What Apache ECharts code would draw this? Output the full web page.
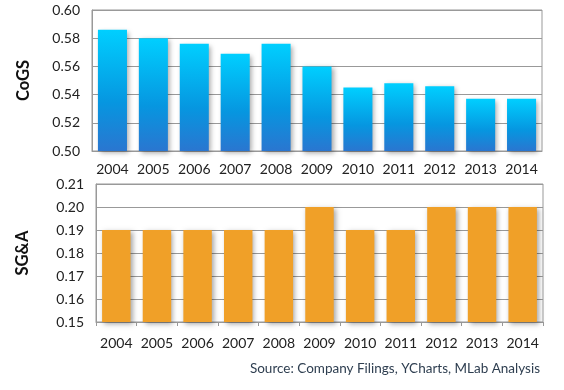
<!DOCTYPE html>
<html><head><meta charset="utf-8">
<script src="https://cdn.jsdelivr.net/npm/echarts@6/dist/echarts.min.js"></script>
<style>html,body{margin:0;padding:0;background:#fff}#c{width:564px;height:390px}</style>
</head><body><div id="c"></div>
<script>
const years = ['2004','2005','2006','2007','2008','2009','2010','2011','2012','2013','2014'];
const cogs = [0.586, 0.580, 0.576, 0.569, 0.576, 0.560, 0.545, 0.548, 0.546, 0.537, 0.537];
const sga = [0.19, 0.19, 0.19, 0.19, 0.19, 0.20, 0.19, 0.19, 0.20, 0.20, 0.20];
const cogsTicks = [0.50, 0.60, 0.02];
const sgaTicks = [0.15, 0.21, 0.01];

const font = 'Lato';
const chart = echarts.init(document.getElementById('c'));
const yAxisBase = (t, name, gap) => ({
  type: 'value', min: t[0], max: t[1], interval: t[2],
  name: name, nameLocation: 'middle', nameGap: gap, nameRotate: 90,
  nameTextStyle: {fontFamily: font, fontWeight: 'bold', fontSize: 16.5, color: '#111'},
  axisLine: {show: true, lineStyle: {color: '#999'}},
  axisTick: {show: false},
  axisLabel: {fontFamily: font, fontSize: 14, color: '#222', margin: 12, formatter: v => v.toFixed(2)},
  splitLine: {show: true, lineStyle: {color: '#999', width: 1}}
});
const xAxisBase = (ticks) => ({
  type: 'category', data: years,
  axisLine: {show: true, lineStyle: {color: '#999'}},
  axisTick: {show: ticks, length: 4, interval: 0, lineStyle: {color: '#999'}},
  axisLabel: {fontFamily: font, fontSize: 14, color: '#222', interval: 0, margin: ticks ? 14 : 11}
});
chart.setOption({
  animation: false,
  grid: [
    {left: 92, right: 22, top: 10, height: 141, show: true, borderColor: '#999', borderWidth: 1},
    {left: 96, right: 21, top: 184, height: 138, show: true, borderColor: '#999', borderWidth: 1}
  ],
  xAxis: [Object.assign(xAxisBase(false), {gridIndex: 0}), Object.assign(xAxisBase(true), {gridIndex: 1})],
  yAxis: [Object.assign(yAxisBase(cogsTicks, 'CoGS', 60), {gridIndex: 0}), Object.assign(yAxisBase(sgaTicks, 'SG&A', 65), {gridIndex: 1})],
  series: [
    {type: 'bar', xAxisIndex: 0, yAxisIndex: 0, data: cogs, barWidth: '71%',
     itemStyle: {color: new echarts.graphic.LinearGradient(0,0,0,1,[{offset:0,color:'#00CFFF'},{offset:0.6,color:'#0696E0'},{offset:1,color:'#2A76D0'}]),
       shadowColor: 'rgba(0,0,0,0.35)', shadowBlur: 5, shadowOffsetX: 2, shadowOffsetY: 2}},
    {type: 'bar', xAxisIndex: 1, yAxisIndex: 1, data: sga, barWidth: '70%',
     itemStyle: {color: '#F0A028', shadowColor: 'rgba(0,0,0,0.35)', shadowBlur: 5, shadowOffsetX: 2, shadowOffsetY: 2}}
  ],
  graphic: [{type: 'text', right: 24, top: 362, style: {text: 'Source: Company Filings, YCharts, MLab Analysis', fontFamily: font, fontSize: 13.5, fill: '#2E3E50'}}]
});
</script></body></html>
